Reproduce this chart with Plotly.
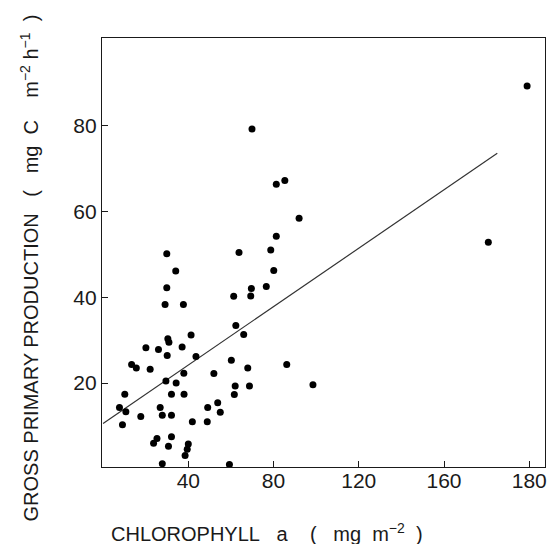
import plotly.graph_objects as go

# Chlorophyll a (mg m^-2), positions read on the linear axis
chl = [29.9, 34.1, 29.9, 29.1, 37.7, 63.8, 81.3, 78.7, 80.1, 76.6,
       69.6, 69.3, 61.3, 62.3, 66.0, 41.3, 30.4, 30.9, 20.1, 26.0,
       37.1, 30.1, 43.6, 60.2, 67.9, 13.4, 15.6, 22.1, 37.9, 52.0,
       29.5, 34.3, 10.2, 32.1, 38.0, 62.0, 68.7, 61.6, 53.8, 49.1,
       55.0, 7.7, 10.7, 9.1, 17.7, 26.8, 27.8, 32.1, 41.9, 48.9,
       25.3, 23.7, 32.1, 30.7, 40.0, 39.5, 38.5, 27.8, 59.3, 69.9,
       81.3, 85.3, 92.0, 86.2, 98.5, 199.0, 180.8]
# Gross primary production (mg C m^-2 h^-1)
gpp = [50.1, 46.1, 42.2, 38.3, 38.3, 50.4, 54.2, 51.0, 46.2, 42.5,
       42.0, 40.3, 40.2, 33.4, 31.3, 31.2, 30.3, 29.5, 28.2, 27.8,
       28.4, 26.4, 26.2, 25.3, 23.5, 24.3, 23.5, 23.2, 22.3, 22.2,
       20.5, 20.0, 17.4, 17.4, 17.4, 19.3, 19.3, 17.3, 15.4, 14.3,
       13.2, 14.3, 13.3, 10.3, 12.2, 14.3, 12.5, 12.5, 11.0, 11.0,
       7.1, 6.0, 7.5, 5.3, 5.8, 4.6, 3.1, 1.2, 1.0, 79.2,
       66.3, 67.2, 58.4, 24.3, 19.6, 89.2, 52.8]

# Regression line parameters
reg_intercept = 10.6
reg_slope = 0.34
reg_x = [0, 185]
reg_y = [reg_intercept + reg_slope * v for v in reg_x]

x_tickvals = [40, 80, 120, 160, 200]
x_ticktext = ["40", "80", "120", "160", "180"]
y_tickvals = [20, 40, 60, 80]
y_ticktext = ["20", "40", "60", "80"]

FONT = "Liberation Sans, Arial, sans-serif"
INK = "#1a1a1a"
S = "\u00a0"

y_title = ("GROSS PRIMARY PRODUCTION" + S * 3 + "(" + S * 3 + "mg" + S * 2 + "C"
           + S * 4 + "m<sup>−2</sup>" + S + "h<sup>−1</sup>" + S * 2 + ")")
x_title = ("CHLOROPHYLL" + S * 3 + "a" + S * 4 + "(" + S * 3 + "mg" + S * 2
           + "m<sup>−2</sup>" + S * 2 + ")")

fig = go.Figure()
fig.add_trace(go.Scatter(x=reg_x, y=reg_y, mode="lines",
                         line=dict(color="#333333", width=1.2),
                         hoverinfo="skip", showlegend=False))
fig.add_trace(go.Scatter(x=chl, y=gpp, mode="markers",
                         marker=dict(color="black", size=7),
                         showlegend=False))

axis_common = dict(showgrid=False, zeroline=False, showline=True,
                   linecolor=INK, linewidth=1.3, mirror=True,
                   ticks="inside", ticklen=6, tickwidth=1.2, tickcolor=INK,
                   tickfont=dict(family=FONT, size=21, color=INK))

fig.update_layout(
    width=549, height=544,
    margin=dict(l=101.5, r=2, t=37.5, b=77.3),
    paper_bgcolor="white", plot_bgcolor="white",
    xaxis=dict(range=[-0.5, 207.4], tickvals=x_tickvals, ticktext=x_ticktext,
               ticklabelstandoff=-5, **axis_common),
    yaxis=dict(range=[0.44, 100.37], tickvals=y_tickvals, ticktext=y_ticktext,
               **axis_common),
    annotations=[
        dict(text=y_title,
             xref="paper", yref="paper", x=-0.1645, y=0.463,
             xanchor="center", yanchor="middle", textangle=-90,
             showarrow=False, font=dict(family=FONT, size=20, color=INK)),
        dict(text=x_title,
             xref="paper", yref="paper", x=(109 - 101.5) / 445.5, y=-0.152,
             xanchor="left", yanchor="middle",
             showarrow=False, font=dict(family=FONT, size=20, color=INK)),
    ],
)

fig.write_html("out.html", config={"displayModeBar": False},
               post_script="document.body.style.margin='0px';")
